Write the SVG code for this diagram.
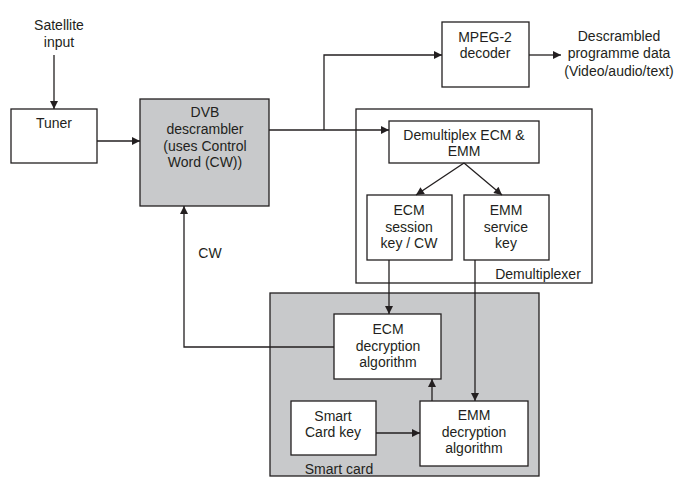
<svg xmlns="http://www.w3.org/2000/svg" width="691" height="492" viewBox="0 0 691 492">
<style>
text{font-family:"Liberation Sans",Arial,sans-serif;font-size:14px;fill:#231f20;text-anchor:middle}
.box{fill:#fff;stroke:#231f20;stroke-width:1.3}
.gray{fill:#c8c9cb;stroke:#231f20;stroke-width:1.3}
.c{fill:none;stroke:#231f20;stroke-width:1.3}
</style>
<defs>
<marker id="a" viewBox="0 0 10 10" refX="10" refY="5" markerWidth="9" markerHeight="8" markerUnits="userSpaceOnUse" orient="auto">
<path d="M0,0 L10,5 L0,10 Z" fill="#231f20"/>
</marker>
</defs>
<rect x="0" y="0" width="691" height="492" fill="#fff"/>
<g id="demux">
<rect class="box" x="356" y="109" width="236" height="174"/>
<text x="538" y="279">Demultiplexer</text>
</g>
<g id="smartcard">
<rect class="gray" x="270" y="293" width="269" height="183"/>
<text x="339" y="474">Smart card</text>
</g>
<g id="satellite">
<text x="59" y="30">Satellite</text>
<text x="59" y="47">input</text>
</g>
<g id="tuner">
<rect class="box" x="11" y="109" width="86" height="54"/>
<text x="54" y="128">Tuner</text>
</g>
<g id="dvb">
<rect class="gray" x="140" y="99" width="129" height="107"/>
<text x="205" y="117">DVB</text>
<text x="205" y="134">descrambler</text>
<text x="205" y="151">(uses Control</text>
<text x="205" y="167">Word (CW))</text>
</g>
<g id="mpeg">
<rect class="box" x="442" y="22" width="87" height="65"/>
<text x="485" y="42">MPEG-2</text>
<text x="485" y="58">decoder</text>
</g>
<g id="output">
<text x="619" y="41">Descrambled</text>
<text x="619" y="58">programme data</text>
<text x="619" y="76">(Video/audio/text)</text>
</g>
<g id="demuxecm">
<rect class="box" x="389" y="121" width="150" height="42"/>
<text x="464" y="140">Demultiplex ECM &amp;</text>
<text x="464" y="156">EMM</text>
</g>
<g id="ecmsession">
<rect class="box" x="367" y="195" width="85" height="65"/>
<text x="409" y="215">ECM</text>
<text x="409" y="232">session</text>
<text x="409" y="248">key / CW</text>
</g>
<g id="emmservice">
<rect class="box" x="464" y="195" width="85" height="65"/>
<text x="506" y="215">EMM</text>
<text x="506" y="232">service</text>
<text x="506" y="248">key</text>
</g>
<g id="ecmdec">
<rect class="box" x="334" y="314" width="107" height="65"/>
<text x="388" y="334">ECM</text>
<text x="388" y="351">decryption</text>
<text x="388" y="367">algorithm</text>
</g>
<g id="smartkey">
<rect class="box" x="291" y="401" width="85" height="54"/>
<text x="333" y="421">Smart</text>
<text x="333" y="437">Card key</text>
</g>
<g id="emmdec">
<rect class="box" x="420" y="401" width="108" height="65"/>
<text x="474" y="420">EMM</text>
<text x="474" y="437">decryption</text>
<text x="474" y="453">algorithm</text>
</g>
<g id="cwlabel">
<text x="210" y="258">CW</text>
</g>
<g id="connectors">
<path class="c" d="M54,55 V109" marker-end="url(#a)"/>
<path class="c" d="M97,141 H140" marker-end="url(#a)"/>
<path class="c" d="M269,130 H389" marker-end="url(#a)"/>
<path class="c" d="M324,130 V55 H442" marker-end="url(#a)"/>
<path class="c" d="M529,55 H561" marker-end="url(#a)"/>
<path class="c" d="M464,163 L416,195" stroke-width="1" marker-end="url(#a)"/>
<path class="c" d="M464,163 L502,195" stroke-width="1" marker-end="url(#a)"/>
<path class="c" d="M389,260 V314" marker-end="url(#a)"/>
<path class="c" d="M475,260 V401" marker-end="url(#a)"/>
<path class="c" d="M334,347 H184 V206" marker-end="url(#a)"/>
<path class="c" d="M376,433 H420" marker-end="url(#a)"/>
<path class="c" d="M432,401 V379" marker-end="url(#a)"/>
</g>
</svg>
